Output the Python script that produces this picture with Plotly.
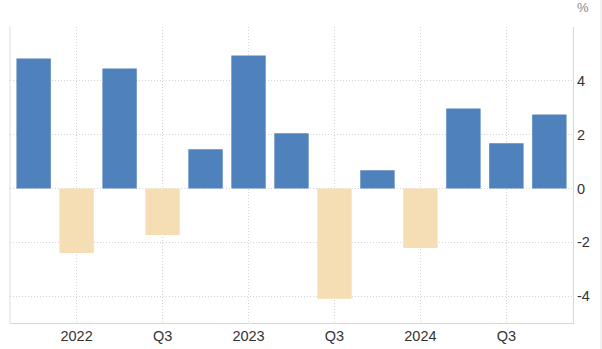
import plotly.graph_objects as go

quarters = ["2021Q4", "2022Q1", "2022Q2", "2022Q3", "2022Q4", "2023Q1", "2023Q2",
            "2023Q3", "2023Q4", "2024Q1", "2024Q2", "2024Q3", "2024Q4"]
values = [4.83, -2.40, 4.46, -1.73, 1.46, 4.94, 2.05, -4.10, 0.68, -2.21, 2.97, 1.68, 2.75]
tick_positions = ["2022Q1", "2022Q3", "2023Q1", "2023Q3", "2024Q1", "2024Q3"]
tick_labels = ["2022", "Q3", "2023", "Q3", "2024", "Q3"]
y_ticks = [-4, -2, 0, 2, 4, 6]
y_tick_labels = ["-4", "-2", "0", "2", "4", ""]

POS = "#4F81BD"
NEG = "#F5DEB3"
colors = [POS if v >= 0 else NEG for v in values]

fig = go.Figure(go.Bar(x=quarters, y=values, marker_color=colors, marker_line_width=0))

W, H = 602, 349
ml, mr, mt, mb = 10, 29, 27, 26

fig.update_layout(
    width=W, height=H,
    margin=dict(l=ml, r=mr, t=mt, b=mb, autoexpand=False),
    plot_bgcolor="white", paper_bgcolor="white",
    bargap=0.2, showlegend=False,
    font=dict(family="Liberation Sans, Arial, sans-serif", size=14, color="#333333"),
)
fig.update_xaxes(
    type="category", range=[-0.55, 12.55], automargin=False,
    tickvals=tick_positions, ticktext=tick_labels,
    showgrid=True, gridcolor="#d4d4d4", griddash="1px,2px", gridwidth=1,
    showline=True, linecolor="#d8d8d8", linewidth=1, mirror=False,
    ticks="", tickfont=dict(size=14.5, color="#333333"),
)
fig.update_yaxes(
    side="right", range=[-5, 6], automargin=False,
    tickvals=y_ticks, ticktext=y_tick_labels,
    showgrid=True, gridcolor="#d4d4d4", griddash="1px,2px", gridwidth=1,
    zeroline=False, showline=True, linecolor="#d8d8d8", linewidth=1,
    ticks="", tickfont=dict(size=14.5, color="#333333"),
)
# left frame line
fig.add_shape(type="line", xref="paper", yref="paper", x0=0, x1=0, y0=0, y1=1,
              line=dict(color="#dcdcdc", width=1))
# page edge line at far right
fig.add_shape(type="line", xref="paper", yref="paper",
              x0=(601 - ml) / (W - ml - mr), x1=(601 - ml) / (W - ml - mr),
              y0=-mb / (H - mt - mb), y1=1 + mt / (H - mt - mb),
              line=dict(color="#e6e6e6", width=1))
fig.add_annotation(text="%", xref="paper", yref="paper",
                   x=(583 - ml) / (W - ml - mr), y=1 + (mt - 8) / (H - mt - mb),
                   showarrow=False, xanchor="center", yanchor="middle",
                   font=dict(size=13, color="#888888"))

fig.write_html("out.html")
